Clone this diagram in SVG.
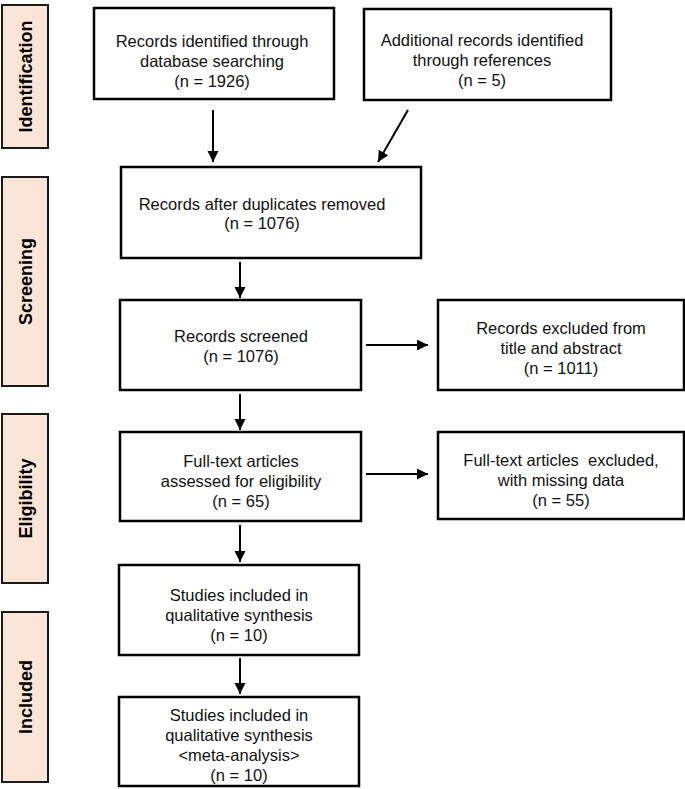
<svg xmlns="http://www.w3.org/2000/svg" width="685" height="789" viewBox="0 0 685 789">
<style>
.bg{fill:#ffffff}
.box{fill:#ffffff;stroke:#000000;stroke-width:2.5}
.lab{fill:#fbe5d6;stroke:#1a1a1a;stroke-width:2}
.t{font-family:"Liberation Sans",Arial,sans-serif;font-size:16.5px;fill:#111111;text-anchor:middle}
.lt{font-family:"Liberation Sans",Arial,sans-serif;font-size:18px;font-weight:bold;fill:#000000;text-anchor:middle}
.c{stroke:#000000;stroke-width:2;fill:none;marker-end:url(#ah)}
</style>
<defs>
<marker id="ah" markerUnits="userSpaceOnUse" markerWidth="12" markerHeight="12" refX="11" refY="5.5" orient="auto">
<path d="M0,0 L11,5.5 L0,11 z" fill="#000000"/>
</marker>
</defs>
<rect class="bg" x="0" y="0" width="685" height="789"/>

<g id="label-identification">
<rect class="lab" x="2" y="5" width="46" height="143"/>
<text class="lt" transform="translate(31.5,76.5) rotate(-90)">Identification</text>
</g>
<g id="label-screening">
<rect class="lab" x="2" y="177" width="46" height="209"/>
<text class="lt" transform="translate(31.5,281.5) rotate(-90)">Screening</text>
</g>
<g id="label-eligibility">
<rect class="lab" x="2" y="414" width="46" height="169"/>
<text class="lt" transform="translate(31.5,498.5) rotate(-90)">Eligibility</text>
</g>
<g id="label-included">
<rect class="lab" x="2" y="612" width="46" height="170"/>
<text class="lt" transform="translate(31.5,697) rotate(-90)">Included</text>
</g>

<g id="node-database">
<rect class="box" x="94" y="8" width="240" height="91"/>
<text class="t" x="212" y="47">Records identified through</text>
<text class="t" x="212" y="67">database searching</text>
<text class="t" x="212" y="87">(n = 1926)</text>
</g>
<g id="node-references">
<rect class="box" x="364" y="9" width="247" height="91"/>
<text class="t" x="482" y="46">Additional records identified</text>
<text class="t" x="482" y="66">through references</text>
<text class="t" x="482" y="86">(n = 5)</text>
</g>
<g id="node-duplicates">
<rect class="box" x="121" y="167" width="300" height="91"/>
<text class="t" x="262" y="210">Records after duplicates removed</text>
<text class="t" x="262" y="229">(n = 1076)</text>
</g>
<g id="node-screened">
<rect class="box" x="120" y="300" width="241" height="90"/>
<text class="t" x="241" y="342">Records screened</text>
<text class="t" x="241" y="362">(n = 1076)</text>
</g>
<g id="node-excluded-title">
<rect class="box" x="438" y="300" width="246" height="90"/>
<text class="t" x="561" y="334">Records excluded from</text>
<text class="t" x="561" y="354">title and abstract</text>
<text class="t" x="561" y="374">(n = 1011)</text>
</g>
<g id="node-fulltext">
<rect class="box" x="120" y="432" width="241" height="89"/>
<text class="t" x="241" y="467">Full-text articles</text>
<text class="t" x="241" y="487">assessed for eligibility</text>
<text class="t" x="241" y="507">(n = 65)</text>
</g>
<g id="node-excluded-fulltext">
<rect class="box" x="438" y="432" width="246" height="87"/>
<text class="t" x="561" y="466" xml:space="preserve">Full-text articles  excluded,</text>
<text class="t" x="561" y="486">with missing data</text>
<text class="t" x="561" y="506">(n = 55)</text>
</g>
<g id="node-qualitative">
<rect class="box" x="119" y="565" width="240" height="90"/>
<text class="t" x="239" y="601">Studies included in</text>
<text class="t" x="239" y="621">qualitative synthesis</text>
<text class="t" x="239" y="641">(n = 10)</text>
</g>
<g id="node-meta">
<rect class="box" x="119" y="697" width="240" height="89"/>
<text class="t" x="239" y="721">Studies included in</text>
<text class="t" x="239" y="741">qualitative synthesis</text>
<text class="t" x="239" y="761">&lt;meta-analysis&gt;</text>
<text class="t" x="239" y="781">(n = 10)</text>
</g>

<g id="connectors">
<line class="c" x1="213" y1="110" x2="213" y2="162"/>
<line class="c" x1="408" y1="110" x2="378" y2="162"/>
<line class="c" x1="240" y1="262" x2="240" y2="298"/>
<line class="c" x1="366" y1="345" x2="428" y2="345"/>
<line class="c" x1="240" y1="394" x2="240" y2="430"/>
<line class="c" x1="366" y1="474" x2="428" y2="474"/>
<line class="c" x1="240" y1="525" x2="240" y2="562"/>
<line class="c" x1="240" y1="658" x2="240" y2="694"/>
</g>
</svg>
